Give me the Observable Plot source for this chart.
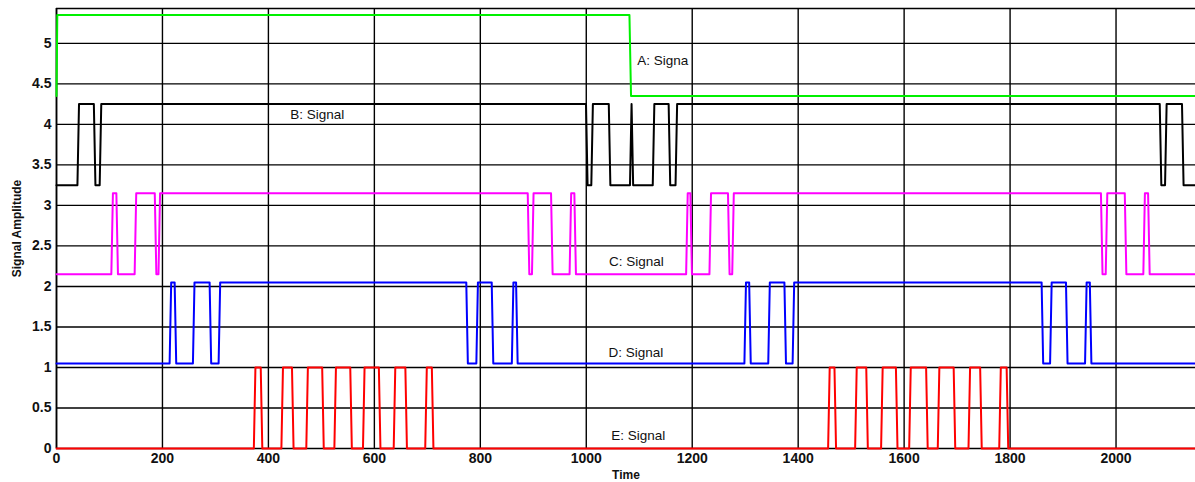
<!DOCTYPE html>
<html>
<head>
<meta charset="utf-8">
<script src="https://cdn.jsdelivr.net/npm/d3@7"></script>
<script src="https://cdn.jsdelivr.net/npm/@observablehq/plot@0.6"></script>
<style>
  html, body { margin: 0; padding: 0; background: #fff; }
  #chart svg { display: block; font-family: "Liberation Sans", Arial, sans-serif; }
</style>
</head>
<body>
<div id="chart"></div>
<script>
// ---- data ----
const timeMax = 2150;
const ampMax = 5.43;
const xTicks = [0, 200, 400, 600, 800, 1000, 1200, 1400, 1600, 1800, 2000];
const yTicks = [0, 0.5, 1, 1.5, 2, 2.5, 3, 3.5, 4, 4.5, 5];

const signalNames = ["A", "B", "C", "D", "E"];
const lowLevels = [4.35, 3.25, 2.15, 1.05, 0];
const highLevels = [5.35, 4.25, 3.15, 2.05, 1];
// toggle times (each signal starts low, toggles at every listed time)
const edgesA = [0, 1083];
const edgesB = [41, 72, 83, 1001, 1011, 1044, 1084, 1087, 1127, 1157, 1170, 2084, 2094, 2126];
const edgesC = [105, 114.5, 149, 187, 194, 891, 899, 935, 970, 979, 1190, 1198, 1234, 1269, 1277, 1973, 1982, 2018, 2053, 2062];
const edgesD = [215, 224.5, 259, 290.5, 307.5, 775, 794, 823, 861, 869, 1300, 1309, 1345, 1375.5, 1391, 1861, 1877, 1907, 1943, 1952];
const edgesE = [374, 387, 426, 446, 473, 503, 526, 556, 580, 610, 638, 660, 697.5, 710, 1458, 1470, 1509, 1530, 1558, 1586, 1611, 1643, 1665, 1695, 1723, 1745, 1781, 1795];
const allEdges = [edgesA, edgesB, edgesC, edgesD, edgesE];

const labelTexts = ["A: Signa", "B: Signal", "C: Signal", "D: Signal", "E: Signal"];
const labelTimes = [1096, 441, 1043, 1042, 1047];
const labelAmps = [4.79, 4.12, 2.30, 1.185, 0.157];

// ---- styles ----
const colors = {A: "#00f000", B: "#000000", C: "#ff00ff", D: "#0000ff", E: "#ff0000"};
const ramp = 3;

// ---- build point table ----
const points = [];
signalNames.forEach((name, i) => {
  const lo = lowLevels[i], hi = highLevels[i];
  let state = false;
  points.push({name, t: 0, v: lo});
  for (const e of allEdges[i]) {
    const prev = state ? hi : lo;
    state = !state;
    const next = state ? hi : lo;
    points.push({name, t: Math.max(0, e - ramp / 2), v: prev});
    points.push({name, t: Math.max(0, e + ramp / 2), v: next});
  }
  points.push({name, t: timeMax, v: state ? hi : lo});
});

const labels = labelTexts.map((s, i) => ({s, t: labelTimes[i], v: labelAmps[i]}));

const chart = Plot.plot({
  width: 1195,
  height: 482,
  marginLeft: 56,
  marginRight: 0,
  marginTop: 8,
  marginBottom: 34,
  style: {fontFamily: "Liberation Sans, Arial, sans-serif", background: "#fff"},
  x: {domain: [0, timeMax]},
  y: {domain: [0, ampMax]},
  marks: [
    Plot.ruleX(xTicks, {stroke: "#000", strokeWidth: 1.4}),
    Plot.ruleY(yTicks, {stroke: "#000", strokeWidth: 1.4}),
    Plot.ruleY([ampMax], {stroke: "#000", strokeWidth: 1.4}),
    Plot.ruleX([0], {stroke: "#000", strokeWidth: 1.6}),
    Plot.axisX(xTicks, {tickSize: 0, tickPadding: 5, fontSize: 14, fontWeight: "bold", fill: "#111",
      tickFormat: d => String(d),
      label: "Time", labelAnchor: "center", labelArrow: "none", labelOffset: 30}),
    Plot.axisY(yTicks, {tickSize: 0, tickPadding: 5, fontSize: 14, fontWeight: "bold", fill: "#111",
      tickFormat: d => String(d),
      label: "Signal Amplitude", labelAnchor: "center", labelArrow: "none", labelOffset: 44}),
    Plot.line(points, {x: "t", y: "v", z: "name", stroke: d => colors[d.name], strokeWidth: 2, curve: "linear"}),
    Plot.text(labels, {x: "t", y: "v", text: "s", textAnchor: "start", fontSize: 13.5, fill: "#111"})
  ]
});
document.getElementById("chart").appendChild(chart);
// axis label font
chart.querySelectorAll('[aria-label="x-axis label"] text, [aria-label="y-axis label"] text').forEach(t => {
  t.setAttribute("font-size", "12");
  t.setAttribute("font-weight", "bold");
});
</script>
</body>
</html>
